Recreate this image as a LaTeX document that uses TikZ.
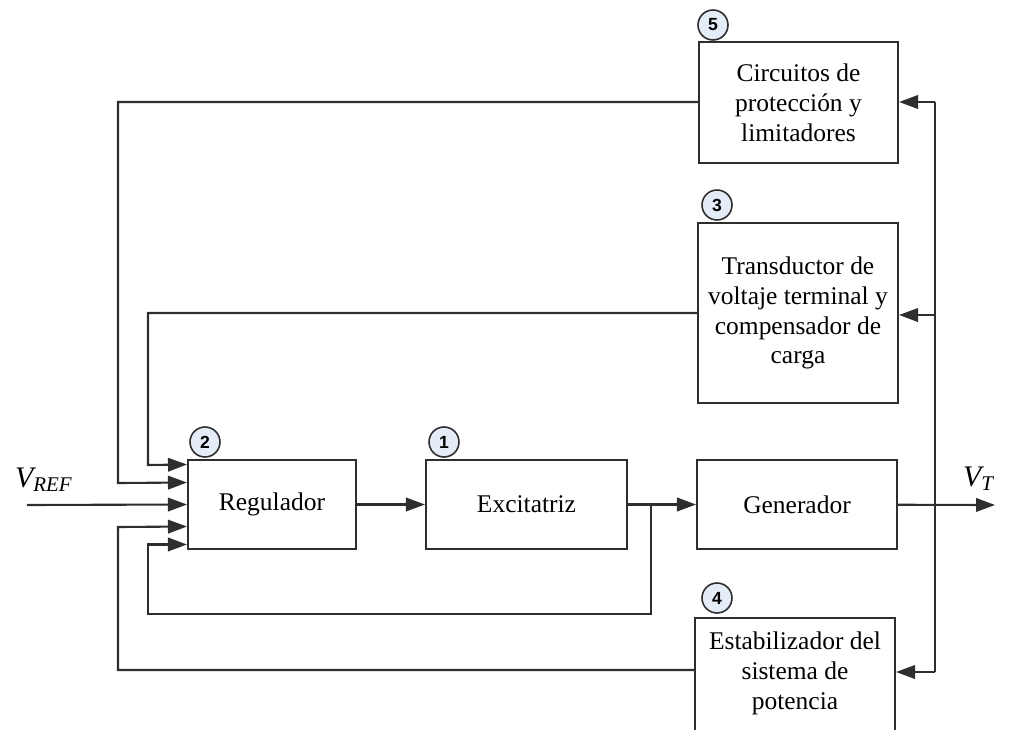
\documentclass[tikz,border=0pt]{standalone}
\usepackage{fontspec}
\setmainfont{Liberation Serif}
\setsansfont{Liberation Sans}
\usetikzlibrary{arrows.meta, shapes}

\definecolor{linegray}{HTML}{2E2E2E}
\definecolor{numfill}{HTML}{E4ECF7}

\begin{document}
\begin{tikzpicture}[x=0.02cm, y=-0.02cm, line width=1.2pt, color=linegray,
    >={Triangle[length=0.38cm, width=0.27cm]}]
    \tikzstyle{blk} = [draw, rectangle, text=black, align=center, inner sep=2pt,
                       font=\fontsize{14.5}{17}\selectfont]
    \tikzstyle{num} = [draw, circle, fill=numfill, text=black, inner sep=0pt,
                       minimum size=0.6cm, line width=0.9pt,
                       font=\sffamily\bfseries\fontsize{10}{10}\selectfont]
    \tikzstyle{sig} = [text=black, font=\fontsize{17}{20}\selectfont\itshape]
    \useasboundingbox (0,0) rectangle (1021,730);
    \clip (0,0) rectangle (1021,730);
    % blocks
    \node (reg) [blk, minimum width=3.36cm, minimum height=1.78cm] at (272, 504.5) {Regulador};
    \node (exc) [blk, minimum width=4.02cm, minimum height=1.78cm] at (526.5, 504.5) {Excitatriz};
    \node (gen) [blk, minimum width=4cm, minimum height=1.78cm] at (797, 504.5) {Generador};
    \node (prot) [blk, minimum width=3.98cm, minimum height=2.42cm] at (798.5, 102.5) {Circuitos de\\protección y\\limitadores};
    \node (trans) [blk, minimum width=4cm, minimum height=3.6cm] at (798, 313) {Transductor de\\voltaje terminal y\\compensador de\\carga};
    \node (estab) [blk, minimum width=4cm, minimum height=2.9cm, anchor=north] at (795, 617) {};
    \node (estabtxt) [blk, draw=none] at (795, 673) {Estabilizador del\\sistema de\\potencia};
    % numbers
    \node (n1) [num] at (444, 442) {1};
    \node (n2) [num] at (205, 442) {2};
    \node (n3) [num] at (717, 205) {3};
    \node (n4) [num] at (717, 598) {4};
    \node (n5) [num] at (713, 25) {5};
    % signals
    \coordinate (vref) at (27, 505);
    \coordinate (vt) at (995, 505);
    \coordinate (br) at (651, 505);
    \coordinate (b5) at (935, 102);
    \coordinate (b4) at (935, 672);
    \node (vrefl) [sig, anchor=base west, inner sep=0pt] at (14, 487) {V\textsubscript{REF}};
    \node (vtl) [sig, anchor=base west, inner sep=0pt] at (962, 486) {V\textsubscript{T}};
    \draw [->] (vref) -- (reg.west);
    \draw [->] (reg) -- (exc);
    \draw [->] (exc) -- (gen);
    \draw [->] (gen) -- (vt);
    \draw [->] (trans.west) -| (148, 465) -- ([yshift=0.8cm]reg.west);
    \draw [->] (prot.west |- b5) -| (118, 483) -- ([yshift=0.44cm]reg.west);
    \draw [->] (estab.west |- 0, 670) -| (118, 527) -- ([yshift=-0.44cm]reg.west);
    \draw [->] (br) |- (148, 614) |- ([yshift=-0.8cm]reg.west);
    \draw (b5) -- (b4);
    \draw [->] (b5) -- (prot.east |- b5);
    \draw [->] (b5 |- 0, 315) -- (trans.east |- 0, 315);
    \draw [->] (b4) -- (estab.east |- b4);
\end{tikzpicture}
\end{document}
